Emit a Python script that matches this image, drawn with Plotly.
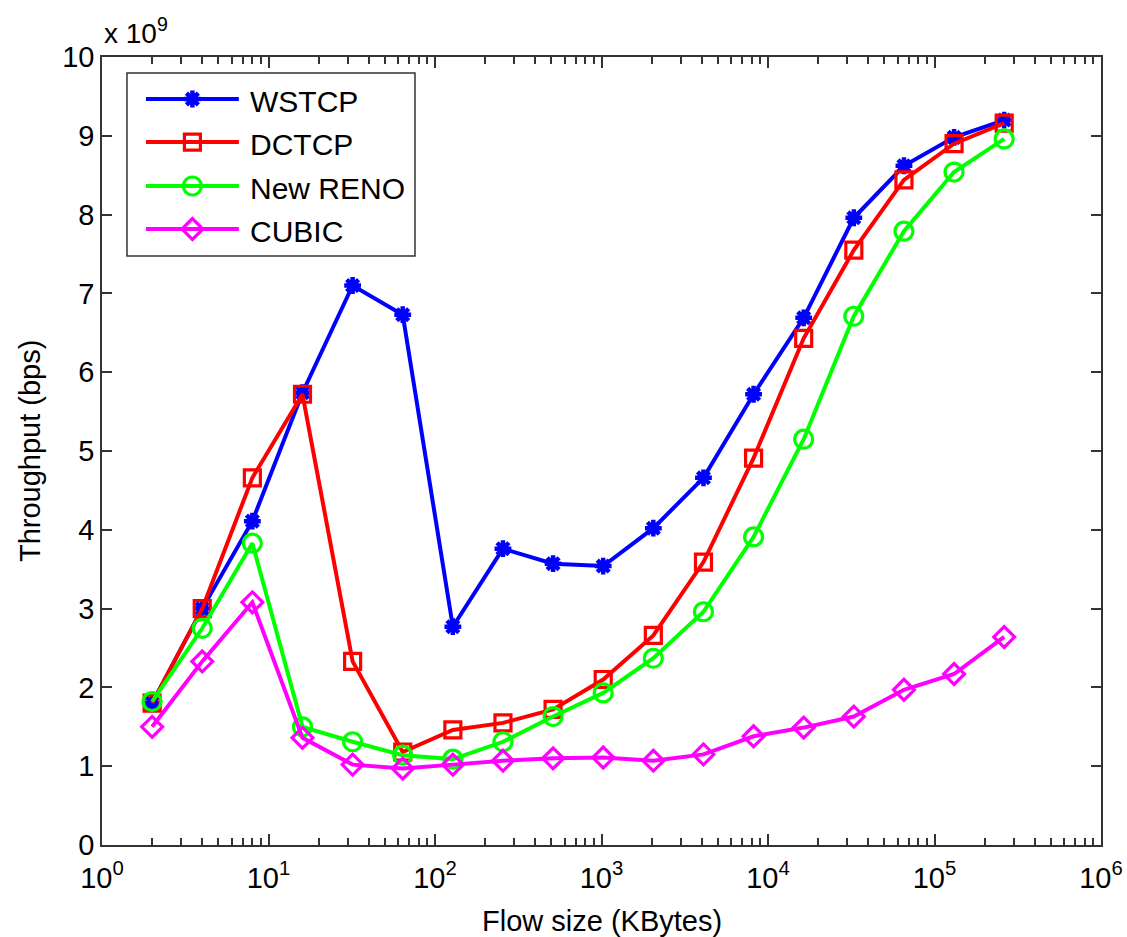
import plotly.graph_objects as go

# Flow sizes in KBytes (2^1 .. 2^18)
flow_size = [2, 4, 8, 16, 32, 64, 128, 256, 512, 1024, 2048, 4096,
             8192, 16384, 32768, 65536, 131072, 262144]

# Throughput in units of 1e9 bps
wstcp = [1.80, 3.00, 4.11, 5.74, 7.10, 6.73, 2.77, 3.76, 3.57, 3.54,
         4.02, 4.66, 5.72, 6.69, 7.96, 8.62, 8.98, 9.20]
dctcp = [1.80, 3.00, 4.66, 5.72, 2.33, 1.18, 1.46, 1.55, 1.72, 2.10,
         2.66, 3.59, 4.91, 6.43, 7.55, 8.44, 8.90, 9.16]
newreno = [1.82, 2.75, 3.83, 1.50, 1.31, 1.14, 1.09, 1.31, 1.63, 1.93,
           2.37, 2.96, 3.91, 5.15, 6.71, 7.79, 8.54, 8.96]
cubic = [1.50, 2.33, 3.08, 1.36, 1.02, 0.97, 1.02, 1.07, 1.10, 1.11,
         1.07, 1.15, 1.38, 1.49, 1.63, 1.97, 2.17, 2.64]

series = [
    ("WSTCP", wstcp, "#0000FF", "asterisk-open", 14, 4.5),
    ("DCTCP", dctcp, "#FF0000", "square-open", 16, 3.2),
    ("New RENO", newreno, "#00FF00", "circle-open", 18, 3.2),
    ("CUBIC", cubic, "#FF00FF", "diamond-open", 16, 3.2),
]

x_major = [1, 10, 100, 1000, 10000, 100000, 1000000]
x_major_text = ["10<sup>%d</sup>" % k for k in range(7)]
x_minor = [m * 10 ** k for k in range(6) for m in range(2, 10)]
y_ticks = list(range(0, 11))

FONT = "Liberation Sans, Arial, sans-serif"
AX = "#333333"

fig = go.Figure()
for name, vals, color, sym, size, lw in series:
    fig.add_trace(go.Scatter(
        x=flow_size, y=vals, mode="lines+markers", name=name,
        line=dict(color=color, width=4),
        marker=dict(symbol=sym, size=size, color=color,
                    line=dict(color=color, width=lw)),
        showlegend=False,
    ))

# Legend drawn on an overlay axis in unit coordinates
leg_rows = [0.9467, 0.8921, 0.8363, 0.7817]
for (name, vals, color, sym, size, lw), yr in zip(series, leg_rows):
    fig.add_trace(go.Scatter(
        x=[0.044, 0.137], y=[yr, yr], mode="lines",
        line=dict(color=color, width=4), xaxis="x2", yaxis="y2",
        showlegend=False, hoverinfo="skip",
    ))
    fig.add_trace(go.Scatter(
        x=[0.0905], y=[yr], mode="markers",
        marker=dict(symbol=sym, size=size, color=color,
                    line=dict(color=color, width=lw)),
        xaxis="x2", yaxis="y2", showlegend=False, hoverinfo="skip",
    ))
    fig.add_annotation(x=0.146, y=yr, xref="x2", yref="y2", text=name,
                       showarrow=False, xanchor="left", yanchor="middle",
                       yshift=-2,
                       font=dict(family=FONT, size=30, color="black"))

fig.add_shape(type="rect", xref="x2", yref="y2", x0=0.025, x1=0.3133,
              y0=0.7475, y1=0.9797, line=dict(color=AX, width=1.5),
              fillcolor="white", layer="below")

# Exponent marker above the y axis
fig.add_annotation(x=0.0, y=1.0, xref="paper", yref="paper",
                   text="x 10<sup>9</sup>", showarrow=False,
                   xanchor="left", yanchor="bottom", yshift=6,
                   font=dict(family=FONT, size=28, color="black"))

# Axis titles
fig.add_annotation(x=0.5, y=-0.097, xref="paper", yref="paper",
                   text="Flow size (KBytes)", showarrow=False,
                   xanchor="center", yanchor="middle",
                   font=dict(family=FONT, size=29, color="black"))
fig.add_annotation(x=-0.072, y=0.5, xref="paper", yref="paper",
                   text="Throughput (bps)", showarrow=False, textangle=-90,
                   xanchor="center", yanchor="middle",
                   font=dict(family=FONT, size=29, color="black"))

axis_common = dict(showline=True, linecolor=AX, linewidth=1.5,
                   mirror="ticks", ticks="inside", tickcolor=AX,
                   tickwidth=1.5, showgrid=False, zeroline=False,
                   automargin=False,
                   tickfont=dict(family=FONT, size=29, color="black"))

fig.update_layout(
    width=1127, height=937,
    margin=dict(l=102, r=26, t=57, b=92),
    plot_bgcolor="white", paper_bgcolor="white",
    xaxis=dict(type="log", range=[0, 6], tickvals=x_major,
               ticktext=x_major_text, ticklen=11, ticklabelstandoff=6,
               minor=dict(tickvals=x_minor, ticks="inside", ticklen=7,
                          tickcolor=AX, tickwidth=1.5),
               **axis_common),
    yaxis=dict(range=[0, 10], tickvals=y_ticks, ticklen=10,
               **axis_common),
    xaxis2=dict(range=[0, 1], overlaying="x", visible=False, fixedrange=True),
    yaxis2=dict(range=[0, 1], overlaying="y", visible=False, fixedrange=True),
)

fig.write_html("out.html")
